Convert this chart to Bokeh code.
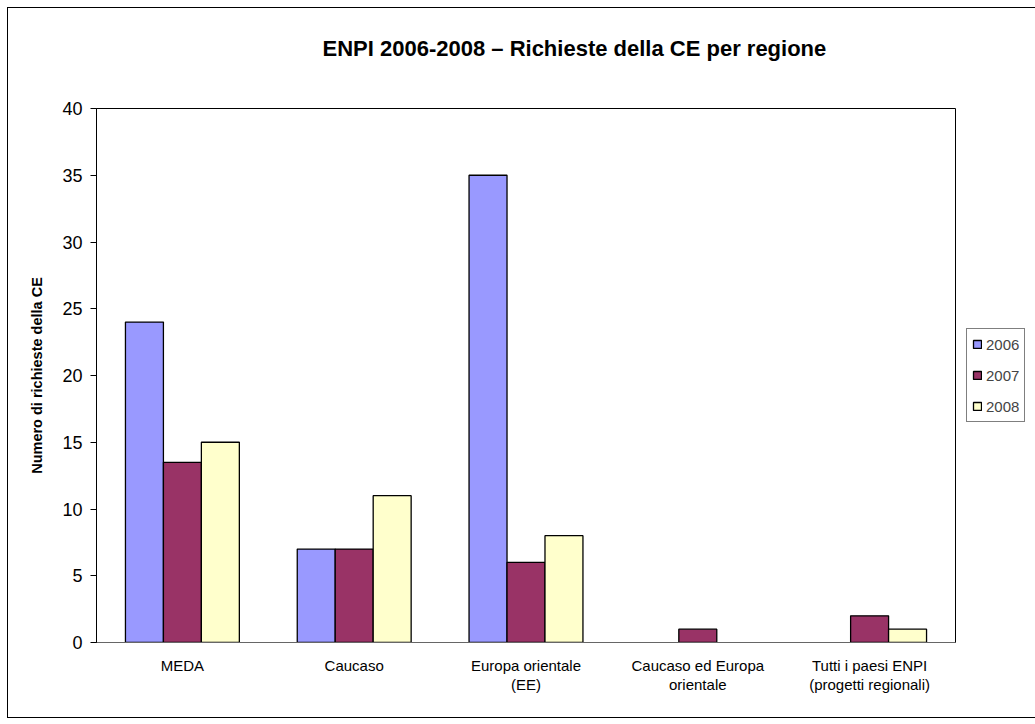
from bokeh.plotting import figure
from bokeh.models import (FactorRange, Range1d, ColumnDataSource, Legend, LegendItem,
                          FixedTicker, CategoricalAxis, Title)
from bokeh.transform import dodge
from bokeh.embed import file_html
from bokeh.resources import INLINE

# ---------------- data ----------------
# categories (first text line of each label) and second text line
categories = ["MEDA", "Caucaso", "Europa orientale", "Caucaso ed Europa", "Tutti i paesi ENPI"]
categories_line2 = [" ", "  ", "(EE)", "orientale", "(progetti regionali)"]
years = ["2006", "2007", "2008"]
v2006 = [24, 7, 35, 0, 0]
v2007 = [13.5, 7, 6, 1, 2]
v2008 = [15, 11, 8, 0, 1]
colors = ["#9999FF", "#993366", "#FFFFCC"]
y_ticks = [0, 5, 10, 15, 20, 25, 30, 35, 40]
title_text = "ENPI 2006-2008 – Richieste della CE per regione"
y_label = "Numero di richieste della CE"

FONT = "Liberation Sans"

p = figure(x_range=FactorRange(factors=categories, range_padding=0),
           y_range=Range1d(0, 40),
           frame_width=859, frame_height=534,
           min_border_left=88, min_border_right=80,
           min_border_top=100, min_border_bottom=75,
           output_backend="svg", toolbar_location=None, tools="")
p.extra_x_ranges = {"line2": FactorRange(factors=categories_line2, range_padding=0)}
p.styles = {"outline": "1px solid black", "margin-left": "8px", "margin-top": "8px"}
p.background_fill_color = "white"
p.border_fill_color = "white"
p.outline_line_color = "black"
p.outline_line_width = 1
p.xgrid.visible = False
p.ygrid.visible = False

# title (spacer between frame and title keeps it high in the top border)
p.add_layout(Title(text=" ", text_font_size="12px", standoff=32), "above")
p.title.text = title_text
p.title.align = "left"
p.title.offset = 226
p.title.standoff = 0
p.title.text_font = FONT
p.title.text_font_style = "bold"
p.title.text_font_size = "22px"
p.title.text_color = "black"

# x axis (categories), first text line
xax = p.xaxis[0]
xax.axis_line_color = "#666666"
xax.major_tick_line_color = None
xax.minor_tick_line_color = None
xax.major_tick_out = 0
xax.major_tick_in = 0
xax.major_label_standoff = 14
xax.major_label_text_font = FONT
xax.major_label_text_font_size = "15px"
xax.major_label_text_color = "black"

# second text line of the category labels
xax2 = CategoricalAxis(x_range_name="line2",
                       axis_line_color=None, major_tick_line_color=None,
                       minor_tick_line_color=None, major_tick_out=0, major_tick_in=0,
                       major_label_standoff=-1, major_label_text_font=FONT,
                       major_label_text_font_size="15px", major_label_text_color="black")
p.add_layout(xax2, "below")

# y axis
yax = p.yaxis[0]
yax.ticker = FixedTicker(ticks=y_ticks)
yax.minor_tick_line_color = None
yax.major_tick_out = 6
yax.major_tick_in = 0
yax.major_tick_line_color = "black"
yax.axis_line_color = "black"
yax.major_label_standoff = 8
yax.major_label_text_font = FONT
yax.major_label_text_font_size = "18px"
yax.major_label_text_color = "black"
yax.axis_label = y_label
yax.axis_label_text_font = FONT
yax.axis_label_text_font_style = "bold"
yax.axis_label_text_font_size = "14.5px"
yax.axis_label_text_color = "black"
yax.axis_label_standoff = 14

bar_w = 0.221
offsets = [-bar_w, 0.0, bar_w]
series = [v2006, v2007, v2008]
renderers = []
for yr, vals, col, off in zip(years, series, colors, offsets):
    cats_nz = [c for c, v in zip(categories, vals) if v != 0]
    vals_nz = [v for v in vals if v != 0]
    src = ColumnDataSource(dict(cat=cats_nz, val=vals_nz))
    r = p.vbar(x=dodge("cat", off, range=p.x_range), top="val", bottom=0,
               width=bar_w, source=src, fill_color=col,
               line_color="black", line_width=1.3)
    renderers.append(r)

legend = Legend(items=[LegendItem(label=yr, renderers=[r]) for yr, r in zip(years, renderers)],
                location="left", orientation="vertical",
                glyph_width=10, glyph_height=10, label_height=20,
                spacing=11, padding=5, margin=11,
                label_text_font=FONT, label_text_font_size="15px",
                label_standoff=4,
                border_line_color="black", border_line_width=1,
                background_fill_color="white", background_fill_alpha=1)
p.add_layout(legend, "right")

open("out.html", "w").write(file_html(p, INLINE))
